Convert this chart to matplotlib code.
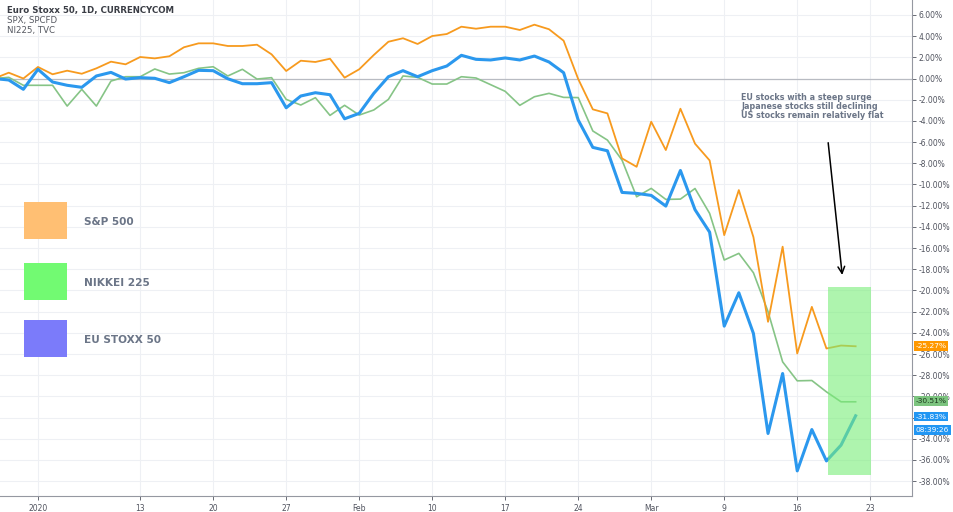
import matplotlib
matplotlib.use("Agg")
import matplotlib.pyplot as plt
from matplotlib.patches import Rectangle
import numpy as np

# ---- data (percent change, trading-day sequence) ----
dates = ["2019-12-27", "2019-12-30", "2019-12-31",
         "2020-01-02", "2020-01-03", "2020-01-06", "2020-01-07", "2020-01-08", "2020-01-09", "2020-01-10",
         "2020-01-13", "2020-01-14", "2020-01-15", "2020-01-16", "2020-01-17",
         "2020-01-20", "2020-01-21", "2020-01-22", "2020-01-23", "2020-01-24",
         "2020-01-27", "2020-01-28", "2020-01-29", "2020-01-30", "2020-01-31",
         "2020-02-03", "2020-02-04", "2020-02-05", "2020-02-06", "2020-02-07",
         "2020-02-10", "2020-02-11", "2020-02-12", "2020-02-13", "2020-02-14",
         "2020-02-17", "2020-02-18", "2020-02-19", "2020-02-20", "2020-02-21",
         "2020-02-24", "2020-02-25", "2020-02-26", "2020-02-27", "2020-02-28",
         "2020-03-02", "2020-03-03", "2020-03-04", "2020-03-05", "2020-03-06",
         "2020-03-09", "2020-03-10", "2020-03-11", "2020-03-12", "2020-03-13",
         "2020-03-16", "2020-03-17", "2020-03-18", "2020-03-19", "2020-03-20"]

spx = [0.00, 0.55, 0.00,
       1.09, 0.40, 0.74, 0.45, 0.96, 1.59, 1.34,
       2.03, 1.90, 2.10, 2.95, 3.32,
       3.32, 3.07, 3.07, 3.19, 2.28,
       0.71, 1.68, 1.56, 1.87, 0.08,
       0.87, 2.22, 3.47, 3.80, 3.26,
       4.01, 4.20, 4.89, 4.70, 4.89,
       4.89, 4.58, 5.08, 4.65, 3.57,
       -0.05, -2.91, -3.29, -7.54, -8.33,
       -4.08, -6.75, -2.85, -6.15, -7.73,
       -14.78, -10.53, -14.97, -22.96, -15.87,
       -25.95, -21.55, -25.48, -25.20, -25.27]

nikkei = [0.00, 0.11, -0.64,
          -0.64, -0.64, -2.60, -1.02, -2.60, -0.24, 0.17,
          0.17, 0.90, 0.42, 0.55, 0.96,
          1.11, 0.24, 0.87, -0.05, 0.08,
          -1.97, -2.50, -1.81, -3.48, -2.53,
          -3.45, -2.97, -1.97, 0.24, 0.11,
          -0.52, -0.52, 0.17, 0.05, -0.58,
          -1.21, -2.53, -1.72, -1.40, -1.78,
          -1.80, -4.95, -5.81, -7.70, -11.16,
          -10.37, -11.41, -11.38, -10.38, -12.73,
          -17.13, -16.50, -18.33, -22.00, -26.74,
          -28.53, -28.50, -29.57, -30.51, -30.51]

sx5e = [0.00, -0.14, -1.02,
        0.87, -0.33, -0.64, -0.83, 0.24, 0.58, -0.05,
        0.08, 0.02, -0.39, 0.17, 0.77,
        0.74, -0.02, -0.49, -0.49, -0.39,
        -2.76, -1.65, -1.34, -1.53, -3.80,
        -3.29, -1.40, 0.17, 0.74, 0.17,
        0.74, 1.18, 2.19, 1.81, 1.75,
        1.94, 1.75, 2.12, 1.56, 0.55,
        -3.92, -6.50, -6.82, -10.75, -10.84,
        -11.03, -12.04, -8.68, -12.38, -14.50,
        -23.37, -20.22, -24.06, -33.50, -27.84,
        -37.03, -33.13, -36.09, -34.60, -31.83]

tick_idx = [0, 7, 12, 17, 22, 27, 32, 37, 42, 47, 52, 57]
tick_labels = ["2020", "13", "20", "27", "Feb", "10", "17", "24", "Mar", "9", "16", "23"]
yticks = list(range(-38, 7, 2))
hidden_yticks = [-32]  # covered by the last-value labels in the reference

legend_names = ["S&P 500", "NIKKEI 225", "EU STOXX 50"]
annotation_lines = ["EU stocks with a steep surge",
                    "Japanese stocks still declining",
                    "US stocks remain relatively flat"]

# ---- styling ----
C_SPX = "#F79A1E"
C_NK = "#86C486"
C_EU = "#2B98EE"
TXT = "#6B7587"

x = np.arange(len(dates)) - 3  # Jan 2 -> 0

fig = plt.figure(figsize=(9.54, 5.12), dpi=100)
ax = fig.add_axes([0, 16/512, 912/954, 496/512])
ax.set_xlim(-2.6, 59.86)
ax.set_ylim(-39.4, 7.41)

for s in ["top", "left"]:
    ax.spines[s].set_visible(False)
ax.spines["right"].set_color("#9598a1")
ax.spines["bottom"].set_color("#9598a1")
ax.spines["right"].set_linewidth(0.8)
ax.spines["bottom"].set_linewidth(0.8)

ax.set_yticks(yticks)
ax.set_yticklabels(["" if v in hidden_yticks else f"{v:.2f}%" for v in yticks])
ax.yaxis.tick_right()
ax.tick_params(axis="y", labelsize=5.5, colors="#50535e", length=3, width=0.6, pad=2)
ax.set_xticks(tick_idx)
ax.set_xticklabels(tick_labels)
ax.tick_params(axis="x", labelsize=5.5, colors="#50535e", length=3, width=0.6, pad=3)
ax.grid(True, color="#eef0f4", linewidth=0.8)
ax.set_axisbelow(True)
ax.axhline(0, color="#b8bbc2", linewidth=0.9, zorder=1)

ax.plot(x, nikkei, color=C_NK, linewidth=1.2, zorder=3)
ax.plot(x, spx, color=C_SPX, linewidth=1.3, zorder=4)
ax.plot(x, sx5e, color=C_EU, linewidth=2.2, zorder=5)

# highlight box
ax.add_patch(Rectangle((54.1, -37.4), 2.95, 17.7, facecolor="#78EE78", alpha=0.6,
                       edgecolor="none", zorder=6))

# annotation
ax.text(48.15, -1.35, "\n".join(annotation_lines), fontsize=5.8, fontweight="bold",
        color=TXT, va="top", ha="left", linespacing=1.0, zorder=7)
ax.annotate("", xy=(55.1, -18.8), xytext=(54.1, -5.8),
            arrowprops=dict(arrowstyle="->", color="black", lw=1.1, mutation_scale=12), zorder=7)

# legend-like boxes
leg_colors = ["#FFBF73", "#72FA72", "#7B7BFA"]
leg_tops = [202, 263, 320]
for col, top, name in zip(leg_colors, leg_tops, legend_names):
    fig.patches.append(Rectangle((24/954, (512-top-37)/512), 43/954, 37/512,
                                 transform=fig.transFigure, facecolor=col, edgecolor="none"))
    fig.text(84/954, (512-top-20)/512, name, fontsize=7.6, fontweight="bold",
             color=TXT, va="center", ha="left")

# header
fig.text(7/954, 1-10/512, "Euro Stoxx 50, 1D, CURRENCYCOM", fontsize=6.2,
         fontweight="bold", color="#3a3d45", va="center")
fig.text(7/954, 1-21/512, "SPX, SPCFD", fontsize=6.2, color="#555860", va="center")
fig.text(7/954, 1-31/512, "NI225, TVC", fontsize=6.2, color="#555860", va="center")

# last value labels on the price axis
def price_label(val, text, fc, tc, dy=0.0):
    ax.annotate(text, xy=(1.0, val), xycoords=("axes fraction", "data"),
                xytext=(2.5, dy), textcoords="offset points", fontsize=5.4, color=tc,
                va="center", ha="left", annotation_clip=False,
                bbox=dict(boxstyle="square,pad=0.25", fc=fc, ec="none"), zorder=10)

price_label(spx[-1], f"{spx[-1]:.2f}%", "#FF9800", "white")
price_label(nikkei[-1], f"{nikkei[-1]:.2f}%", "#7CC47F", "#1e3a1e", dy=0.4)
price_label(sx5e[-1], f"{sx5e[-1]:.2f}%", "#2196F3", "white", dy=-0.6)
price_label(sx5e[-1], "08:39:26", "#2196F3", "white", dy=-10.3)

fig.savefig("out.png", dpi=100)
